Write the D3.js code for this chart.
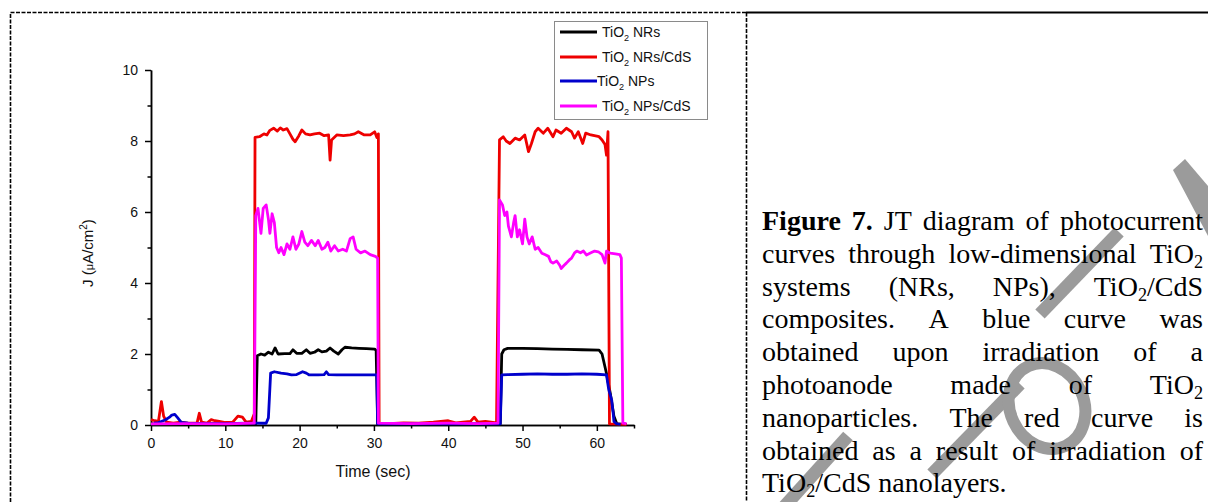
<!DOCTYPE html>
<html>
<head>
<meta charset="utf-8">
<script src="https://cdnjs.cloudflare.com/ajax/libs/d3/7.8.5/d3.min.js"></script>
<style>
body { margin: 0; background: #fff; }
svg { display: block; }
</style>
</head>
<body>
<svg width="1208" height="502"></svg>
<script>
// time (sec), J (uA/cm2)
var nrs = [[0,0.03],[3,0.02],[6,0.04],[9,0.03],[12,0.03],[14.1,0.03],[14.3,1.95],[14.8,2.0],[15.3,1.97],[15.8,2.05],[16.3,2.0],[16.7,2.17],[17.1,2.0],[18.0,2.01],[18.7,2.01],[19.1,2.12],[19.6,2.02],[20.3,2.02],[20.9,2.12],[21.4,2.02],[22.0,2.05],[22.5,2.12],[23.0,2.06],[23.6,2.08],[24.1,2.17],[24.6,2.08],[25.2,2.0],[25.7,2.12],[26.1,2.19],[27.0,2.17],[28.0,2.16],[29.0,2.15],[30.1,2.14],[30.3,2.1],[30.5,0.03],[33,0.02],[36,0.03],[40,0.02],[44,0.03],[47.0,0.03],[47.2,2.0],[47.5,2.12],[48.0,2.16],[50,2.16],[52,2.15],[54,2.14],[56,2.13],[58,2.12],[60.3,2.11],[60.7,2.0],[61.3,1.45],[61.8,0.9],[62.3,0.25],[62.7,0.03],[64,0.02]];

var nrsCdS = [[0,0.15],[0.5,0.12],[1.0,0.1],[1.4,0.66],[1.7,0.25],[2.1,0.08],[3,0.05],[4,0.08],[5,0.05],[6.2,0.06],[6.5,0.33],[6.8,0.08],[7.5,0.05],[8.1,0.15],[8.6,0.12],[9.2,0.1],[10,0.07],[11,0.08],[11.7,0.25],[12.3,0.22],[12.8,0.08],[13.5,0.1],[13.9,0.32],[14.0,8.1],[14.6,8.12],[15.2,8.2],[15.6,8.17],[16.0,8.3],[16.5,8.36],[17.0,8.28],[17.4,8.37],[17.8,8.31],[18.3,8.35],[18.7,8.2],[19.1,8.05],[19.4,7.98],[19.9,8.15],[20.3,8.31],[20.8,8.2],[21.4,8.17],[22.0,8.2],[22.7,8.22],[23.3,8.15],[23.9,8.17],[24.1,7.46],[24.3,8.03],[25.0,8.17],[25.9,8.15],[26.8,8.17],[27.4,8.2],[27.9,8.26],[28.7,8.17],[29.5,8.17],[30.1,8.26],[30.4,8.1],[30.6,8.2],[30.7,0.05],[32,0.04],[34,0.06],[36,0.05],[38,0.08],[40,0.12],[41,0.06],[43,0.1],[43.5,0.22],[44,0.08],[45,0.1],[46.5,0.06],[46.9,8.03],[47.4,8.12],[47.8,8.0],[48.3,7.93],[49.0,8.08],[49.6,8.03],[50.3,8.17],[50.8,7.7],[51.2,7.93],[51.7,8.26],[52.1,8.36],[52.8,8.22],[53.4,8.36],[54.1,8.12],[54.5,8.31],[55.2,8.22],[55.9,8.36],[56.6,8.26],[57.0,8.08],[57.5,8.26],[58.1,7.93],[58.5,8.22],[59.2,8.17],[60.3,8.12],[60.7,8.03],[61.1,7.9],[61.3,7.6],[61.5,8.26],[61.7,0.03],[64,0.02]];

var nps = [[0.4,0.05],[1.0,0.07],[1.9,0.14],[2.5,0.22],[2.8,0.28],[3.2,0.3],[3.6,0.2],[4.1,0.07],[5,0.05],[7,0.04],[10,0.04],[13,0.05],[15.5,0.05],[15.8,0.2],[16.1,1.46],[16.6,1.5],[17.5,1.46],[18.3,1.44],[18.9,1.41],[19.6,1.42],[20.4,1.5],[20.9,1.46],[21.3,1.41],[22.5,1.41],[23.3,1.42],[23.6,1.5],[23.9,1.42],[25,1.41],[27,1.41],[29,1.41],[30.4,1.41],[30.5,0.03],[35,0.03],[40,0.03],[45,0.03],[47.0,0.03],[47.2,1.41],[48,1.42],[50,1.43],[52,1.44],[54,1.43],[56,1.43],[58,1.44],[60,1.43],[61.3,1.41],[61.6,1.0],[62.0,0.7],[62.2,0.33],[62.3,0.1],[62.6,0.04],[63.2,0.02]];

var npsCdS = [[0,0.03],[5,0.04],[10,0.03],[13.9,0.05],[14.1,5.9],[14.4,6.1],[14.8,5.4],[15.1,6.1],[15.5,6.2],[15.8,5.8],[16.0,5.4],[16.3,5.95],[16.6,5.7],[16.9,5.0],[17.2,4.85],[17.5,5.0],[17.9,4.8],[18.3,5.1],[18.7,4.95],[19.1,5.3],[19.5,4.95],[19.9,5.1],[20.3,5.45],[20.7,5.15],[21.1,5.05],[21.6,5.2],[22.1,5.05],[22.5,5.2],[23.0,4.95],[23.4,5.0],[23.8,5.15],[24.2,4.9],[24.7,5.05],[25.2,4.9],[25.8,4.95],[26.3,4.9],[26.8,5.25],[27.2,5.3],[27.6,4.95],[28.2,4.85],[28.8,4.9],[29.5,4.8],[30.2,4.75],[30.5,4.7],[30.6,0.05],[35,0.04],[40,0.05],[44,0.04],[46.7,0.05],[46.9,6.34],[47.3,6.2],[47.6,5.9],[47.9,6.0],[48.1,5.6],[48.5,5.3],[48.8,5.7],[49.0,5.9],[49.3,5.3],[49.6,5.5],[50.0,5.1],[50.3,5.8],[50.6,5.3],[50.9,5.1],[51.3,5.3],[51.7,4.95],[52.1,5.0],[52.6,4.84],[53.0,4.8],[53.5,4.75],[53.8,4.6],[54.1,4.56],[54.6,4.62],[55.0,4.5],[55.2,4.41],[55.6,4.5],[55.9,4.56],[56.3,4.65],[56.6,4.7],[57.0,4.85],[57.3,4.9],[57.8,4.85],[58.2,4.9],[58.6,4.79],[59.2,4.85],[59.7,4.9],[60.2,4.88],[60.7,4.8],[61.1,4.56],[61.3,4.9],[61.8,4.84],[62.5,4.82],[63.1,4.8],[63.3,4.7],[63.5,0.05],[64,0.04]];

var seriesNames = ["TiO_2 NRs", "TiO_2 NRs/CdS", "TiO_2 NPs", "TiO_2 NPs/CdS"];
var seriesColors = ["#000000", "#ee0000", "#0000cc", "#ff00ff"];
var seriesData = [nrs, nrsCdS, nps, npsCdS];

var xMajor = [0, 10, 20, 30, 40, 50, 60];
var xMinor = [5, 15, 25, 35, 45, 55, 65];
var yMajor = [0, 2, 4, 6, 8, 10];
var yMinor = [1, 3, 5, 7, 9];

// caption, one array per printed line; "_2" marks a subscript 2, "*" bold
var captionLines = [
    ["*Figure", "*7.", "JT", "diagram", "of", "photocurrent"],
    ["curves", "through", "low-dimensional", "TiO_2"],
    ["systems", "(NRs,", "NPs),", "TiO_2/CdS"],
    ["composites.", "A", "blue", "curve", "was"],
    ["obtained", "upon", "irradiation", "of", "a"],
    ["photoanode", "made", "of", "TiO_2"],
    ["nanoparticles.", "The", "red", "curve", "is"],
    ["obtained", "as", "a", "result", "of", "irradiation", "of"],
    ["TiO_2/CdS", "nanolayers."]
];

var svg = d3.select("svg"),
    sans = "'Liberation Sans', Arial, sans-serif",
    serif = "'Liberation Serif', 'Times New Roman', serif";

// frame of the figure table
svg.append("path")
    .attr("d", "M10.5,502 V12.5 H746.5 M746.5,12.5 V502")
    .attr("fill", "none")
    .attr("stroke", "#000")
    .attr("stroke-width", 1.6)
    .attr("stroke-dasharray", "4,1.5");
svg.append("line")
    .attr("x1", 746).attr("x2", 1208)
    .attr("y1", 12.5).attr("y2", 12.5)
    .attr("stroke", "#000")
    .attr("stroke-width", 2);

var x = d3.scaleLinear().domain([0, 65]).range([151, 634]),
    y = d3.scaleLinear().domain([0, 10]).range([425, 70]);

// axes
function styleAxis(g) {
    g.selectAll("path,line").attr("stroke", "#000").attr("stroke-width", 1.5);
    g.selectAll("text").attr("font-family", sans).attr("font-size", 14).attr("fill", "#111");
}

svg.append("g")
    .attr("transform", "translate(0,425)")
    .call(d3.axisBottom(x).tickValues(xMajor).tickSize(6).tickSizeOuter(0).tickPadding(7))
    .call(styleAxis);
svg.append("g")
    .attr("transform", "translate(0,425)")
    .call(d3.axisBottom(x).tickValues(xMinor).tickSize(3.5).tickSizeOuter(0).tickFormat(""))
    .call(styleAxis);
svg.append("g")
    .attr("transform", "translate(151,0)")
    .call(d3.axisLeft(y).tickValues(yMajor).tickSize(6).tickSizeOuter(0).tickPadding(7))
    .call(styleAxis);
svg.append("g")
    .attr("transform", "translate(151,0)")
    .call(d3.axisLeft(y).tickValues(yMinor).tickSize(3.5).tickSizeOuter(0).tickFormat(""))
    .call(styleAxis);

// axis titles
svg.append("text")
    .attr("x", 373).attr("y", 477)
    .attr("text-anchor", "middle")
    .attr("font-family", sans).attr("font-size", 16).attr("fill", "#111")
    .text("Time (sec)");

var yt = svg.append("text")
    .attr("transform", "translate(93,253) rotate(-90)")
    .attr("text-anchor", "middle")
    .attr("font-family", sans).attr("font-size", 15).attr("fill", "#111");
yt.append("tspan").text("J (");
yt.append("tspan").attr("font-size", 11).text("\u03bc");
yt.append("tspan").text("A/cm");
yt.append("tspan").attr("font-size", 10).attr("dy", -6).text("2");
yt.append("tspan").attr("dy", 6).text(")");

// curves
var line = d3.line()
    .x(function (d) { return x(d[0]); })
    .y(function (d) { return y(d[1]); });

svg.append("g").selectAll("path")
    .data(seriesData)
    .enter().append("path")
    .attr("d", line)
    .attr("fill", "none")
    .attr("stroke", function (d, i) { return seriesColors[i]; })
    .attr("stroke-width", 2.8)
    .attr("stroke-linejoin", "round");

// text with "_2" subscripts
function subText(t, s, fs, shift) {
    var parts = s.split("_2");
    parts.forEach(function (p, i) {
        if (i > 0) {
            t.append("tspan").attr("font-size", fs * 0.65).attr("dy", shift).text("2");
            t.append("tspan").attr("dy", -shift).text(p);
        } else {
            t.append("tspan").text(p);
        }
    });
}

// legend
var legend = svg.append("g");
legend.append("rect")
    .attr("x", 554.5).attr("y", 21.5)
    .attr("width", 153).attr("height", 98)
    .attr("fill", "#fff")
    .attr("stroke", "#8a8a8a");
var legendY = [32, 57, 81, 106];
seriesNames.forEach(function (name, i) {
    legend.append("line")
        .attr("x1", 560).attr("x2", 597)
        .attr("y1", legendY[i]).attr("y2", legendY[i])
        .attr("stroke", seriesColors[i])
        .attr("stroke-width", 3);
    var t = legend.append("text")
        .attr("x", i == 2 ? 597 : 602)
        .attr("y", legendY[i] + 5)
        .attr("font-family", sans).attr("font-size", 14).attr("fill", "#111");
    subText(t, name, 14, 4);
});

// grey watermark strokes behind the caption
var wm = svg.append("g").attr("fill", "none").attr("stroke", "#9b9b9b").attr("stroke-width", 13);
wm.append("path").attr("d", "M1173,170 L1185,159 L1208,186 L1208,236 Z").attr("fill", "#9b9b9b").attr("stroke", "none");
wm.append("path").attr("d", "M783,508 L848,436");
wm.append("path").attr("d", "M932,474 L1020,384");
wm.append("path").attr("d", "M1040,314 L1119,232");
wm.append("ellipse").attr("cx", 1047).attr("cy", 406).attr("rx", 37).attr("ry", 44)
    .attr("transform", "rotate(-25,1047,406)").attr("stroke-width", 12);

// caption, justified
var capLeft = 762, capRight = 1203, capTop = 230, capStep = 32.8, capSize = 28;
var cap = svg.append("g")
    .attr("font-family", serif)
    .attr("font-size", capSize)
    .attr("fill", "#000");

captionLines.forEach(function (words, li) {
    var els = words.map(function (w) {
        var bold = w.charAt(0) == "*";
        var t = cap.append("text")
            .attr("y", capTop + li * capStep)
            .attr("font-weight", bold ? "bold" : null);
        subText(t, bold ? w.slice(1) : w, capSize, 5);
        return t;
    });
    var widths = els.map(function (t) { return t.node().getComputedTextLength(); });
    var total = d3.sum(widths);
    var last = li == captionLines.length - 1;
    var gap = last ? capSize * 0.25 : (capRight - capLeft - total) / (words.length - 1);
    var cx = capLeft;
    els.forEach(function (t, i) {
        t.attr("x", cx);
        cx += widths[i] + gap;
    });
});
</script>
</body>
</html>
